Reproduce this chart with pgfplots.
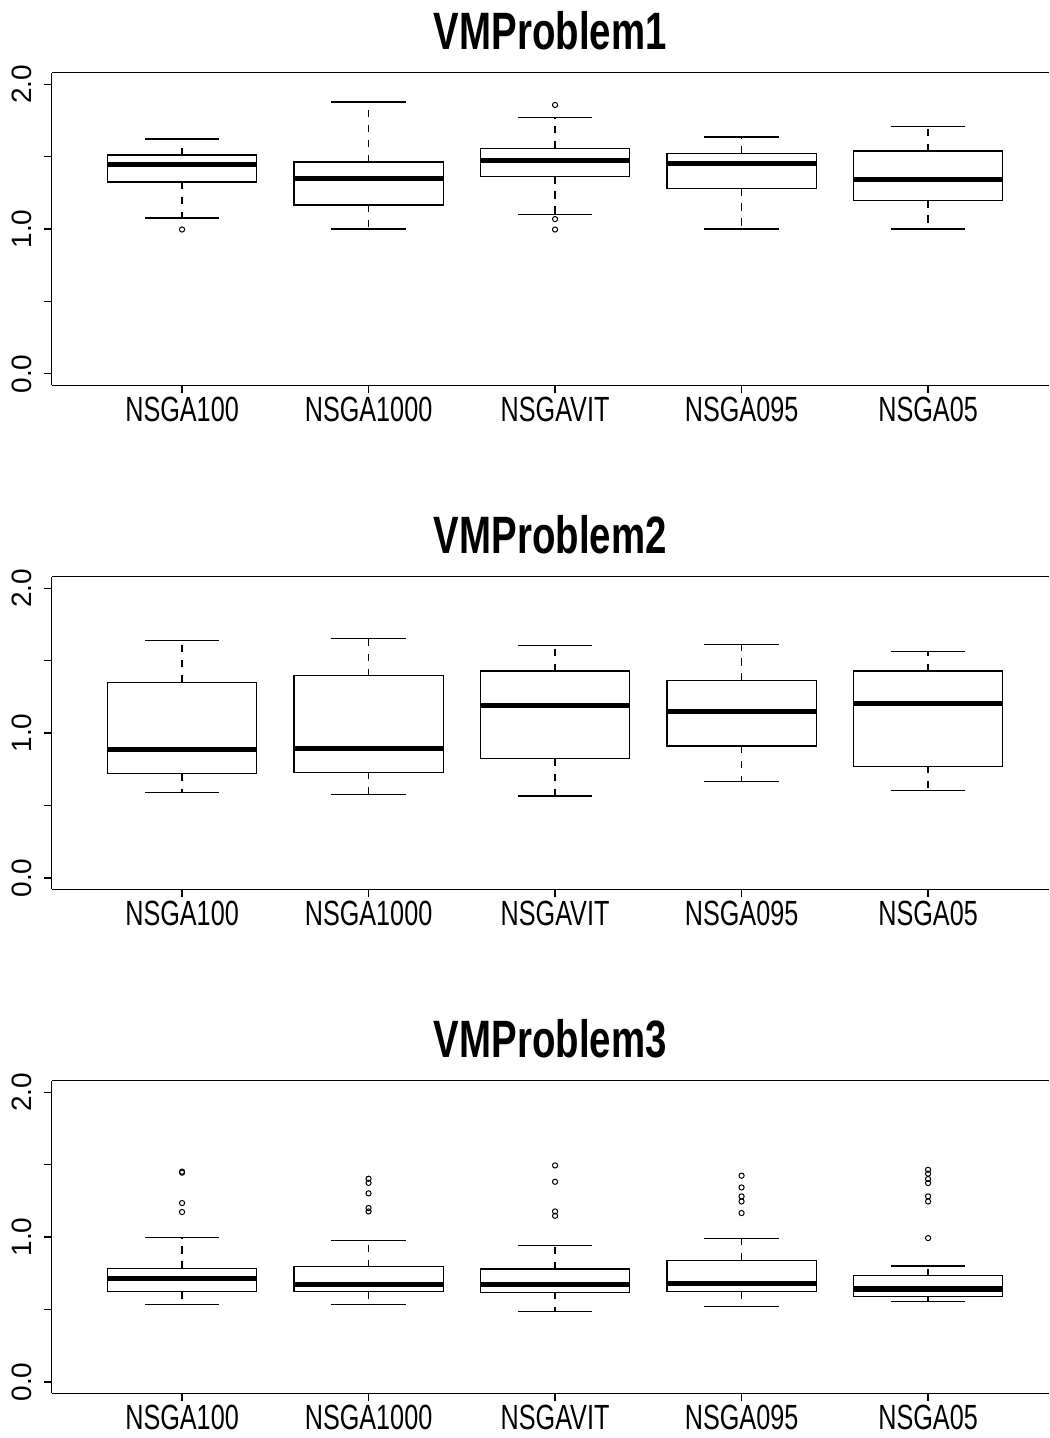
\documentclass[border=0pt]{standalone}
\usepackage{fontspec}
\setmainfont{Liberation Sans}
\newfontfamily\narrowfont[FakeStretch=0.72]{Liberation Sans}
\newfontfamily\titlefont[FakeStretch=0.73]{Liberation Sans Bold}
\usepackage{pgfplots}
\pgfplotsset{compat=1.18}
\usepgfplotslibrary{statistics}

\pgfplotsset{
  boxplot/draw/whisker/.code 2 args={
    \draw[line width=0.6pt, dash pattern=on 3.6pt off 3.9pt] (boxplot cs:#1) -- (boxplot cs:#2);
    \draw[line width=0.6pt, solid] (boxplot whisker cs:#2,0) -- (boxplot whisker cs:#2,1);
  },
  rpanel/.style={
    scale only axis,
    width=498.75pt, height=156.4pt,
    xmin=0.3, xmax=5.6485,
    ymin=-0.08, ymax=2.08,
    axis x line*=box, axis y line*=left,
    axis line style={line width=0.65pt, black},
    xtick pos=bottom, ytick pos=left,
    tick align=outside,
    major tick length=3.9pt,
    tick style={line width=0.6pt, black},
    xtick={1,2,3,4,5},
    xticklabels={NSGA100,NSGA1000,NSGAVIT,NSGA095,NSGA05},
    ytick={0,0.5,1,1.5,2},
    yticklabels={0.0,{},1.0,{},2.0},
    /pgf/number format/assume math mode=true,
    xticklabel style={font=\fontsize{17.5}{20}\narrowfont, anchor=base, inner sep=0pt, yshift=-14pt},
    yticklabel style={font=\fontsize{14}{16}\selectfont, rotate=90, anchor=south, inner sep=0pt, yshift=6pt},
    title style={font=\fontsize{26.3}{30}\titlefont, at={(0.5,1)}, anchor=base, yshift=5.8pt, inner sep=0pt},
    clip=false,
    boxplot/draw direction=y,
  },
  rbox/.style={
    black, solid, line width=0.6pt,
    mark=o, mark size=1.3pt, mark options={solid, line width=0.5pt, black},
    boxplot/draw direction=y,
    boxplot/box extend=0.8,
    boxplot/whisker extend=0.4,
    boxplot/every median/.style={line width=2.6pt},
  },
}

\begin{document}
\begin{tikzpicture}
\useasboundingbox (0,0) rectangle (524.5pt,719pt);

% ---------------- Panel 1 ----------------
\begin{axis}[rpanel, at={(25.75pt,526.25pt)}, anchor=south west, title={VMProblem1}]
\addplot[rbox, boxplot prepared={draw position=1, lower whisker=1.076, lower quartile=1.325, median=1.447, upper quartile=1.512, upper whisker=1.622}]
  coordinates {(1,0.997)};
\addplot[rbox, boxplot prepared={draw position=2, lower whisker=1.0, lower quartile=1.166, median=1.348, upper quartile=1.463, upper whisker=1.878}]
  coordinates {};
\addplot[rbox, boxplot prepared={draw position=3, lower whisker=1.099, lower quartile=1.364, median=1.472, upper quartile=1.558, upper whisker=1.770}]
  coordinates {(3,1.857) (3,1.069) (3,0.997)};
\addplot[rbox, boxplot prepared={draw position=4, lower whisker=1.0, lower quartile=1.281, median=1.454, upper quartile=1.521, upper whisker=1.636}]
  coordinates {};
\addplot[rbox, boxplot prepared={draw position=5, lower whisker=1.0, lower quartile=1.198, median=1.341, upper quartile=1.539, upper whisker=1.710}]
  coordinates {};
\end{axis}

% ---------------- Panel 2 ----------------
\begin{axis}[rpanel, at={(25.75pt,274.25pt)}, anchor=south west, title={VMProblem2}]
\addplot[rbox, boxplot prepared={draw position=1, lower whisker=0.589, lower quartile=0.720, median=0.886, upper quartile=1.351, upper whisker=1.641}]
  coordinates {};
\addplot[rbox, boxplot prepared={draw position=2, lower whisker=0.575, lower quartile=0.730, median=0.893, upper quartile=1.395, upper whisker=1.652}]
  coordinates {};
\addplot[rbox, boxplot prepared={draw position=3, lower whisker=0.566, lower quartile=0.824, median=1.190, upper quartile=1.429, upper whisker=1.606}]
  coordinates {};
\addplot[rbox, boxplot prepared={draw position=4, lower whisker=0.667, lower quartile=0.911, median=1.151, upper quartile=1.362, upper whisker=1.613}]
  coordinates {};
\addplot[rbox, boxplot prepared={draw position=5, lower whisker=0.605, lower quartile=0.771, median=1.204, upper quartile=1.429, upper whisker=1.563}]
  coordinates {};
\end{axis}

% ---------------- Panel 3 ----------------
\begin{axis}[rpanel, at={(25.75pt,22.25pt)}, anchor=south west, title={VMProblem3}]
\addplot[rbox, boxplot prepared={draw position=1, lower whisker=0.537, lower quartile=0.622, median=0.712, upper quartile=0.783, upper whisker=0.998}]
  coordinates {(1,1.452) (1,1.445) (1,1.235) (1,1.173)};
\addplot[rbox, boxplot prepared={draw position=2, lower whisker=0.535, lower quartile=0.622, median=0.675, upper quartile=0.795, upper whisker=0.977}]
  coordinates {(2,1.403) (2,1.374) (2,1.302) (2,1.201) (2,1.177)};
\addplot[rbox, boxplot prepared={draw position=3, lower whisker=0.488, lower quartile=0.620, median=0.673, upper quartile=0.779, upper whisker=0.940}]
  coordinates {(3,1.495) (3,1.382) (3,1.177) (3,1.147)};
\addplot[rbox, boxplot prepared={draw position=4, lower whisker=0.521, lower quartile=0.622, median=0.682, upper quartile=0.841, upper whisker=0.991}]
  coordinates {(4,1.424) (4,1.343) (4,1.281) (4,1.246) (4,1.166)};
\addplot[rbox, boxplot prepared={draw position=5, lower whisker=0.553, lower quartile=0.588, median=0.641, upper quartile=0.733, upper whisker=0.800}]
  coordinates {(5,1.465) (5,1.438) (5,1.401) (5,1.373) (5,1.281) (5,1.246) (5,0.993)};
\end{axis}
\end{tikzpicture}
\end{document}
